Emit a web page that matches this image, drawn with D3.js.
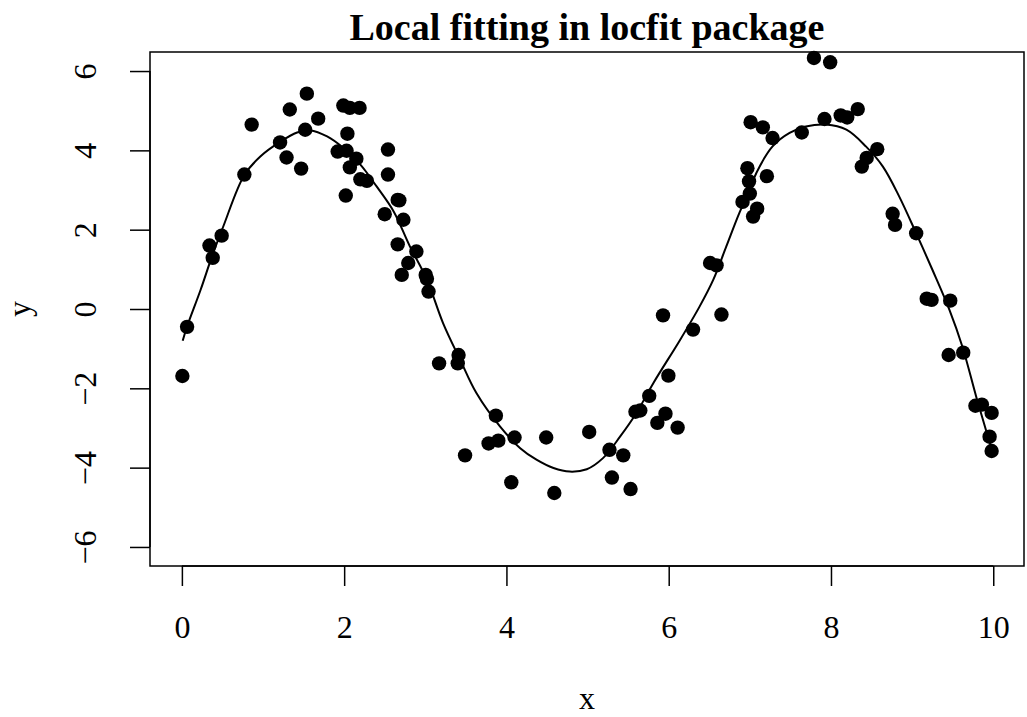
<!DOCTYPE html>
<html>
<head>
<meta charset="utf-8">
<script src="https://cdn.jsdelivr.net/npm/d3@7"></script>
<style>
  html, body { margin: 0; padding: 0; background: #fff; }
  svg text { font-family: "Liberation Serif", "Times New Roman", serif; fill: #000; }
</style>
</head>
<body>
<svg id="chart" width="1027" height="717"></svg>
<script>
// Observed sample
const xs = [0.006, 0.064, 0.34, 0.38, 0.49, 0.77, 0.86, 1.21, 1.29, 1.33,
  1.47, 1.52, 1.54, 1.68, 1.92, 1.99, 2.02, 2.03, 2.04, 2.07,
  2.07, 2.15, 2.19, 2.20, 2.28, 2.50, 2.54, 2.54, 2.66, 2.68,
  2.66, 2.71, 2.73, 2.79, 2.89, 3.005, 3.02, 3.04, 3.17, 3.40,
  3.41, 3.49, 3.78, 3.87, 3.90, 4.06, 4.10, 4.49, 4.59, 5.02,
  5.27, 5.30, 5.44, 5.53, 5.59, 5.65, 5.76, 5.86, 5.93, 5.96,
  5.996, 6.11, 6.30, 6.51, 6.59, 6.65, 6.91, 6.97, 6.99, 7.00,
  7.01, 7.04, 7.09, 7.16, 7.21, 7.28, 7.64, 7.79, 7.92, 7.99,
  8.12, 8.20, 8.33, 8.38, 8.44, 8.57, 8.76, 8.79, 9.05, 9.18,
  9.24, 9.45, 9.47, 9.63, 9.78, 9.86, 9.955, 9.98, 9.98];
const ys = [-1.69, -0.45, 1.60, 1.29, 1.85, 3.39, 4.65, 4.20, 3.82, 5.03,
  3.54, 4.52, 5.43, 4.80, 3.97, 5.13, 2.86, 3.99, 4.42, 5.07,
  3.57, 3.79, 5.07, 3.27, 3.23, 2.39, 4.02, 3.39, 2.75, 2.74,
  1.63, 0.86, 2.25, 1.16, 1.45, 0.86, 0.76, 0.44, -1.37, -1.37,
  -1.16, -3.69, -3.39, -2.69, -3.32, -4.37, -3.24, -3.24, -4.64, -3.10,
  -3.55, -4.25, -3.69, -4.54, -2.59, -2.56, -2.19, -2.87, -0.16, -2.64,
  -1.68, -2.99, -0.52, 1.16, 1.10, -0.14, 2.70, 3.55, 3.22, 2.91,
  4.71, 2.33, 2.53, 4.58, 3.35, 4.31, 4.45, 6.33, 4.79, 6.22,
  4.88, 4.83, 5.04, 3.59, 3.81, 4.03, 2.40, 2.12, 1.91, 0.26,
  0.23, -1.16, 0.21, -1.10, -2.44, -2.41, -3.22, -2.62, -3.58];

// Local fit evaluated along x
const fitX = [0.01, 0.064, 0.23, 0.37, 0.51, 0.77, 0.97, 1.20, 1.42, 1.58,
  1.79, 1.99, 2.20, 2.40, 2.61, 2.81, 3.02, 3.22, 3.43, 3.63,
  3.92, 4.17, 4.37, 4.58, 4.78, 4.99, 5.19, 5.40, 5.60, 5.81,
  6.14, 6.38, 6.55, 6.71, 6.87, 7.00, 7.08, 7.28, 7.49, 7.69,
  7.94, 8.19, 8.43, 8.64, 8.84, 9.05, 9.25, 9.46, 9.62, 9.79,
  9.91, 9.97];
const fitY = [-0.80, -0.44, 0.48, 1.32, 2.08, 3.38, 3.85, 4.20, 4.45, 4.50,
  4.35, 4.06, 3.64, 3.09, 2.46, 1.58, 0.74, -0.36, -1.28, -2.12,
  -2.96, -3.51, -3.80, -4.01, -4.10, -4.04, -3.76, -3.22, -2.63, -1.87,
  -0.78, 0.06, 0.74, 1.58, 2.42, 3.01, 3.43, 4.10, 4.44, 4.60,
  4.65, 4.52, 4.10, 3.59, 2.84, 1.91, 0.99, -0.02, -0.95, -2.21,
  -3.05, -3.45];

const xTicks = [0, 2, 4, 6, 8, 10];
const yTicks = [-6, -4, -2, 0, 2, 4, 6];
const yLimits = [-6, 6];

const svg = d3.select("#chart");
const box = { left: 150, right: 1024, top: 52, bottom: 566 };

// R-style 4% padding of the axis ranges
function padded(lo, hi) { const d = (hi - lo) * 0.04; return [lo - d, hi + d]; }
const xExt = d3.extent(xs);

const x = d3.scaleLinear().domain(padded(xExt[0], xExt[1])).range([box.left, box.right]);
const y = d3.scaleLinear().domain(padded(yLimits[0], yLimits[1])).range([box.bottom, box.top]);

const fmt = v => (v < 0 ? "\u2212" + Math.abs(v) : String(v));

// Plot frame
svg.append("rect")
  .attr("x", box.left).attr("y", box.top)
  .attr("width", box.right - box.left).attr("height", box.bottom - box.top)
  .attr("fill", "none").attr("stroke", "#000").attr("stroke-width", 1.5);

// x axis
const xAxis = svg.append("g").attr("transform", `translate(0,${box.bottom})`)
  .call(d3.axisBottom(x).tickValues(xTicks).tickSize(20).tickSizeOuter(0).tickPadding(0).tickFormat(fmt));
xAxis.select(".domain").attr("d", `M${x(xTicks[0])},0H${x(xTicks[xTicks.length - 1])}`)
  .attr("stroke-width", 1.5);
xAxis.selectAll(".tick line").attr("stroke-width", 1.5);
xAxis.selectAll(".tick text")
  .attr("y", 72).attr("dy", null)
  .style("font-size", "32px").style("font-family", "'Liberation Serif', serif");

// y axis
const yAxis = svg.append("g").attr("transform", `translate(${box.left},0)`)
  .call(d3.axisLeft(y).tickValues(yTicks).tickSize(20).tickSizeOuter(0).tickPadding(0).tickFormat(fmt));
yAxis.select(".domain").attr("d", `M0,${y(yTicks[0])}V${y(yTicks[yTicks.length - 1])}`)
  .attr("stroke-width", 1.5);
yAxis.selectAll(".tick line").attr("stroke-width", 1.5);
yAxis.selectAll(".tick text")
  .attr("x", null)
  .attr("text-anchor", "middle")
  .attr("transform", "translate(-65,0) rotate(-90)")
  .attr("y", 0).attr("dy", "0.35em")
  .style("font-size", "32px").style("font-family", "'Liberation Serif', serif");

// Fitted curve
const fit = fitX.map((d, i) => [d, fitY[i]]);
svg.append("path")
  .datum(fit)
  .attr("fill", "none").attr("stroke", "#000").attr("stroke-width", 2)
  .attr("d", d3.line().x(d => x(d[0])).y(d => y(d[1])).curve(d3.curveCatmullRom.alpha(0.5)));

// Data points
svg.append("g").selectAll("circle")
  .data(xs.map((d, i) => [d, ys[i]]))
  .join("circle")
  .attr("cx", d => x(d[0])).attr("cy", d => y(d[1])).attr("r", 7.2)
  .attr("fill", "#000");

// Title and axis titles
svg.append("text")
  .attr("x", (box.left + box.right) / 2).attr("y", 40)
  .attr("text-anchor", "middle")
  .style("font-size", "38px").style("font-weight", "bold")
  .text("Local fitting in locfit package");

svg.append("text")
  .attr("x", (box.left + box.right) / 2).attr("y", 709)
  .attr("text-anchor", "middle")
  .style("font-size", "32px")
  .text("x");

svg.append("text")
  .attr("transform", `translate(30,${(box.top + box.bottom) / 2}) rotate(-90)`)
  .attr("text-anchor", "middle")
  .style("font-size", "32px")
  .text("y");
</script>
</body>
</html>
